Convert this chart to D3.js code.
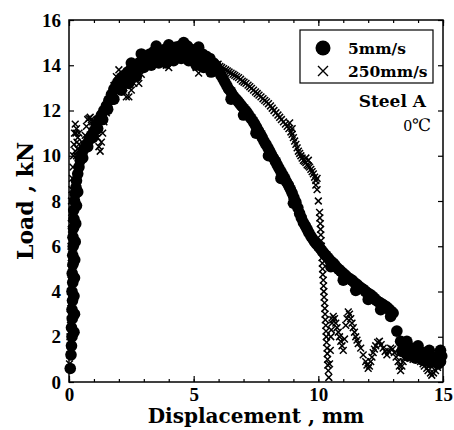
<!DOCTYPE html>
<html>
<head>
<meta charset="utf-8">
<script src="https://cdn.jsdelivr.net/npm/d3@7"></script>
<style>
  html, body { margin: 0; padding: 0; background: #fff; }
  svg { display: block; }
</style>
</head>
<body>
<div id="chart"></div>
<script>
// 5mm/s loading rate, [displacement mm, load kN]
const slowSeries = [
  [0.05,0.6],[0.08,1.2],[0.1,1.6],[0.12,2.0],[0.1,2.4],[0.13,2.8],[0.12,3.2],[0.14,3.6],
  [0.12,4.0],[0.15,4.4],[0.13,4.8],[0.16,5.2],[0.15,5.6],[0.17,6.0],[0.16,6.4],[0.18,6.8],
  [0.2,7.2],[0.19,7.6],[0.22,8.0],[0.25,8.3],[0.28,8.6],[0.3,8.9],[0.35,9.2],[0.4,9.5],
  [0.45,9.8],[0.52,10.1],[0.6,10.3],[0.7,10.5],[0.8,10.7],[0.9,10.9],[1.0,11.1],[1.1,11.35],
  [1.2,11.6],[1.3,11.8],[1.4,12.0],[1.5,12.2],[1.6,12.45],[1.7,12.7],[1.8,12.95],[1.9,13.15],
  [2.0,13.3],[2.1,13.45],[2.2,13.55],[2.35,13.7],[2.5,13.85],[2.65,14.0],[2.8,14.1],[2.95,14.25],
  [3.1,14.4],[3.25,14.5],[3.4,14.6],[3.55,14.65],[3.7,14.6],[3.85,14.7],[4.0,14.75],[4.15,14.7],
  [4.3,14.8],[4.45,14.85],[4.6,14.9],[4.75,14.85],[4.9,14.7],[5.05,14.6],[5.2,14.55],[5.35,14.5],
  [5.5,14.4],[5.65,14.3],[5.8,14.1],[5.95,13.85],[6.1,13.55],[6.25,13.25],[6.4,12.95],[6.55,12.7],
  [6.7,12.5],[6.85,12.3],[7.0,12.1],[7.15,11.9],[7.3,11.65],[7.45,11.4],[7.6,11.1],[7.75,10.8],
  [7.9,10.5],[8.05,10.2],[8.2,9.9],[8.35,9.6],[8.5,9.3],[8.65,9.0],[8.8,8.7],[8.95,8.35],
  [9.1,7.95],[9.25,7.45],[9.4,7.05],[9.55,6.75],[9.7,6.45],[9.85,6.2],[10.0,6.0],[10.15,5.8],
  [10.3,5.6],[10.45,5.4],[10.6,5.25],[10.75,5.05],[10.9,4.9],[11.05,4.75],[11.2,4.6],[11.35,4.5],
  [11.5,4.35],[11.65,4.2],[11.8,4.1],[11.95,3.95],[12.1,3.85],[12.25,3.7],[12.4,3.55],[12.55,3.45],
  [12.7,3.35],[12.85,3.2],[13.0,3.05],[13.15,2.25],[13.3,1.8],[13.45,1.7],[13.6,1.55],[13.75,1.5],
  [13.9,1.45],[14.05,1.35],[14.2,1.3],[14.35,1.25],[14.5,1.15],[14.65,1.1],[14.8,1.05],[14.95,1.15],
  [13.35,1.35],[13.6,1.15],[13.9,1.05],[14.2,0.95],[14.5,0.85],[14.8,0.8],
  // band thickness, early rise
  [0.2,2.2],[0.22,3.0],[0.2,3.8],[0.22,4.6],[0.23,5.4],[0.25,6.2],[0.27,7.0],[0.3,7.8],[0.35,8.4],
  [0.55,9.9],[0.75,10.4],[0.95,10.8],[1.15,11.2],[1.35,11.6],[1.55,12.05],[1.75,12.5],[1.95,13.0],
  [2.15,13.3],[2.45,13.6],[2.75,13.85],[3.05,14.1],[3.35,14.3],[3.65,14.35],[3.95,14.45],[4.25,14.55],
  [4.55,14.6],[4.85,14.5],[5.15,14.3],[5.45,14.15],[5.7,13.95],
  // band thickness around the peak
  [1.8,12.5],[2.1,12.9],[2.4,13.2],[2.7,13.5],[3.0,13.9],[3.3,14.0],[3.6,14.1],[3.9,14.1],
  [4.2,14.2],[4.5,14.3],[4.8,14.2],[5.1,14.0],[5.4,13.9],[5.7,13.7],[2.5,14.1],[2.9,14.5],
  [3.5,14.85],[4.0,14.9],[4.6,15.0],[5.2,14.8],
  // band thickness, descent
  [5.88,14.0],[6.03,13.7],[6.18,13.4],[6.33,13.1],[6.48,12.85],[6.62,12.6],[6.78,12.4],[6.92,12.2],
  [7.08,12.0],[7.22,11.78],[7.38,11.52],[7.52,11.25],[7.68,10.95],[7.82,10.65],[7.98,10.35],[8.12,10.05],
  [8.28,9.75],[8.42,9.45],[8.58,9.15],[8.72,8.85],[8.88,8.52],[9.02,8.15],[9.18,7.7],[9.32,7.25],
  [9.48,6.9],[9.62,6.6],[9.78,6.32],[9.92,6.1],[10.08,5.9],[10.22,5.7],[10.38,5.5],[10.52,5.32],
  [10.68,5.15],[10.82,4.98],[10.98,4.82],[11.12,4.68],[11.28,4.55],[11.42,4.42],[11.58,4.28],[11.72,4.15],
  [11.88,4.02],[12.02,3.9],[12.18,3.78],[12.32,3.62],[12.48,3.5],[12.62,3.4],[12.78,3.28],[12.92,3.12],
  [6.5,12.5],[7.0,11.8],[7.5,11.0],[8.0,10.0],[8.5,9.0],[9.0,7.9],[10.5,5.1],[11.0,4.5],
  [11.5,4.05],[12.0,3.65],[12.5,3.2],[12.9,2.9],
  // tail
  [13.4,1.5],[13.7,1.3],[14.0,1.2],[14.3,1.05],[14.6,0.95],[14.9,0.9],[13.55,1.8],[14.0,1.6],
  [14.45,1.4],[14.9,1.4]
];

// 250mm/s loading rate, [displacement mm, load kN]
const fastSeries = [
  [0.02,0.8],[0.03,1.2],[0.05,1.6],[0.04,2.0],[0.06,2.5],[0.05,3.0],[0.07,3.5],[0.06,4.0],
  [0.08,4.5],[0.07,5.0],[0.09,5.5],[0.08,6.0],[0.1,6.5],[0.09,7.0],[0.11,7.5],[0.1,8.0],
  [0.12,8.5],[0.14,9.0],[0.16,9.5],[0.18,10.0],[0.2,10.5],[0.22,11.0],[0.25,11.4],[0.3,11.2],
  [0.35,10.8],[0.4,10.5],[0.45,10.2],[0.3,10.0],[0.38,9.8],[0.5,10.0],[0.55,10.2],[0.6,10.5],
  [0.65,10.9],[0.7,11.3],[0.75,11.6],[0.85,11.7],[0.95,11.5],[1.05,11.2],[1.15,10.8],[1.2,10.4],
  [1.25,10.2],[1.3,10.6],[1.35,11.0],[1.4,11.5],[1.5,11.9],[1.6,12.3],[1.7,12.7],[1.8,13.1],
  [1.9,13.5],[2.0,13.8],[2.1,13.4],[2.2,13.0],[2.3,12.6],[2.4,12.6],[2.5,12.9],[2.6,13.2],
  [2.7,13.5],[2.8,13.2],[2.9,13.6],[3.0,14.0],[3.15,14.2],[3.3,14.4],[3.45,14.6],[3.6,14.7],
  [3.75,14.5],[3.9,14.0],[4.0,13.9],[4.1,14.3],[4.25,14.5],[4.4,14.3],[4.5,14.6],[4.65,14.7],
  [4.8,14.5],[4.95,14.2],[5.1,13.9],[5.2,13.65],[5.3,14.0],[5.45,14.3],[5.6,14.2],[5.75,14.1],
  [5.9,14.0],[6.05,13.95],[6.2,13.85],[6.35,13.75],[6.5,13.65],[6.65,13.55],[6.8,13.45],[6.95,13.3],
  [7.1,13.2],[7.25,13.05],[7.4,12.9],[7.55,12.75],[7.7,12.6],[7.85,12.45],[8.0,12.3],[8.15,12.1],
  [8.3,11.9],[8.45,11.7],[8.6,11.5],[8.75,11.3],[8.9,11.05],[9.0,10.8],[9.1,10.5],[9.2,10.2],
  [9.3,10.0],[9.4,9.8],[9.5,9.7],[9.6,9.55],[9.7,9.4],[9.8,9.2],[9.9,8.9],[9.95,8.5],
  [10.0,8.0],[10.05,7.5],[10.08,7.0],[10.1,6.5],[10.12,6.0],[10.15,5.5],[10.17,5.0],[10.2,4.5],
  [10.22,4.0],[10.25,3.5],[10.27,3.0],[10.3,2.5],[10.32,2.0],[10.35,1.5],[10.37,1.0],[10.4,0.5],
  [10.42,0.2],[10.45,0.8],[10.48,1.4],[10.5,2.0],[10.55,2.6],[10.6,2.9],[10.7,2.6],[10.8,2.2],
  [10.9,1.8],[11.0,1.4],[11.05,1.9],[11.1,2.5],[11.2,3.1],[11.3,2.8],[11.4,2.4],[11.5,2.0],
  [11.6,1.7],[11.7,1.5],[11.8,1.2],[11.9,0.9],[12.0,0.6],[12.1,0.9],[12.2,1.3],[12.3,1.6],
  [12.45,1.8],[12.6,1.5],[12.75,1.2],[12.9,1.5],[13.05,1.3],[13.2,0.9],[13.3,0.5],[13.4,0.9],
  [13.5,1.2],[13.65,1.1],[13.8,1.0],[13.95,1.1],[14.1,0.9],[14.25,0.7],[14.4,0.5],[14.55,0.3],
  [14.7,0.5],[14.85,0.8],[14.95,1.0],
  // early clump
  [0.25,10.2],[0.32,10.6],[0.28,11.0],[0.4,11.0],[0.35,10.3],[0.42,9.9],
  [0.8,11.65],[0.9,11.6],[1.0,11.35],[1.1,11.0],
  // descending chain
  [5.98,14.05],[6.12,13.9],[6.28,13.8],[6.42,13.7],[6.58,13.6],[6.72,13.5],[6.88,13.38],[7.02,13.25],
  [7.18,13.12],[7.32,12.98],[7.48,12.82],[7.62,12.68],[7.78,12.52],[7.92,12.38],[8.08,12.2],[8.22,12.0],
  [8.38,11.8],[8.52,11.6],[8.68,11.4],[8.82,11.2],[8.95,10.95],[9.05,10.65],[9.15,10.35],[9.25,10.1],
  [9.35,9.9],[9.45,9.75],[9.55,9.6],[9.65,9.5],[9.75,9.3],[9.85,9.05],[9.5,9.9],[9.6,9.8],
  [8.85,11.45],[8.95,11.2],[9.9,8.7],[9.95,9.0],
  // drop at fracture
  [10.06,7.25],[10.09,6.75],[10.11,6.25],[10.13,5.75],[10.16,5.25],[10.18,4.75],[10.21,4.25],[10.23,3.75],
  [10.26,3.25],[10.28,2.75],[10.31,2.25],[10.33,1.75],[10.36,1.25],[10.38,0.75],
  // oscillating tail
  [10.52,2.3],[10.58,2.75],[10.65,2.8],[10.75,2.4],[10.85,2.0],[10.95,1.6],[11.15,2.8],[11.25,3.0],
  [11.35,2.6],[11.45,2.2],[11.55,1.85],[11.95,0.75],[12.05,0.7],[12.15,1.1],[12.25,1.45],[12.38,1.75],
  [12.52,1.65],[12.68,1.35],[12.82,1.35],[12.98,1.45],[13.12,1.1],[13.25,0.7],[13.35,0.7],[13.45,1.05],
  [14.2,0.8],[14.35,0.6],[14.5,0.4],[14.62,0.4],[14.78,0.65],[14.9,0.9]
];

const xTicks = [0, 5, 10, 15];
const xMinorTicks = d3.range(0, 16, 1);
const yTicks = [0, 2, 4, 6, 8, 10, 12, 14, 16];
const legendLabels = ["5mm/s", "250mm/s"];

const W = 454, H = 430;
const margin = { top: 20, right: 11, bottom: 48, left: 69 };

const svg = d3.select("#chart").append("svg")
  .attr("width", W).attr("height", H);

const x = d3.scaleLinear().domain([0, 15]).range([margin.left, W - margin.right]);
const y = d3.scaleLinear().domain([0, 16]).range([H - margin.bottom, margin.top]);

const tickFont = "'Liberation Serif', 'Times New Roman', serif";
const titleFont = "'DejaVu Serif', serif";

// axes, ticks pointing into the plot
function styleAxis(g, labels) {
  g.select(".domain").remove();
  g.selectAll(".tick line").attr("stroke", "#000").attr("stroke-width", 1.2);
  if (!labels) g.selectAll(".tick text").remove();
  else g.selectAll(".tick text")
    .attr("fill", "#000")
    .style("font-family", tickFont)
    .style("font-weight", "bold")
    .style("font-size", "19px");
}

svg.append("g").attr("transform", `translate(0,${y(0)})`)
  .call(d3.axisBottom(x).tickValues(xMinorTicks).tickSize(-3).tickFormat(""))
  .call(g => styleAxis(g, false));
svg.append("g").attr("transform", `translate(0,${y(0)})`)
  .call(d3.axisBottom(x).tickValues(xTicks).tickSize(-6).tickPadding(6).tickFormat(d3.format("d")))
  .call(g => styleAxis(g, true));
svg.append("g").attr("transform", `translate(0,${y(16)})`)
  .call(d3.axisTop(x).tickValues(xMinorTicks).tickSize(-3).tickFormat(""))
  .call(g => styleAxis(g, false));
svg.append("g").attr("transform", `translate(0,${y(16)})`)
  .call(d3.axisTop(x).tickValues(xTicks).tickSize(-6).tickFormat(""))
  .call(g => styleAxis(g, false));
svg.append("g").attr("transform", `translate(${x(0)},0)`)
  .call(d3.axisLeft(y).tickValues(yTicks).tickSize(-5).tickPadding(8).tickFormat(d3.format("d")))
  .call(g => styleAxis(g, true));
svg.append("g").attr("transform", `translate(${x(15)},0)`)
  .call(d3.axisRight(y).tickValues(yTicks).tickSize(-5).tickFormat(""))
  .call(g => styleAxis(g, false));

// frame
svg.append("rect")
  .attr("x", x(0)).attr("y", y(16))
  .attr("width", x(15) - x(0)).attr("height", y(0) - y(16))
  .attr("fill", "none").attr("stroke", "#000").attr("stroke-width", 1.5);

const crossPath = s => `M${-s},${-s}L${s},${s}M${s},${-s}L${-s},${s}`;

// 250mm/s crosses
svg.append("g").selectAll("path")
  .data(fastSeries)
  .join("path")
  .attr("transform", d => `translate(${x(d[0])},${y(d[1])})`)
  .attr("d", crossPath(3.4))
  .attr("stroke", "#000").attr("stroke-width", 1.5).attr("fill", "none");

// 5mm/s filled circles
svg.append("g").selectAll("circle")
  .data(slowSeries)
  .join("circle")
  .attr("cx", d => x(d[0]))
  .attr("cy", d => y(d[1]))
  .attr("r", 5.8)
  .attr("fill", "#000");

// legend
const legend = svg.append("g").attr("transform", "translate(300,30)");
legend.append("rect")
  .attr("width", 133).attr("height", 53)
  .attr("fill", "#fff").attr("stroke", "#000").attr("stroke-width", 1.2);
legend.append("circle").attr("cx", 23).attr("cy", 18).attr("r", 7.5).attr("fill", "#000");
legend.append("path").attr("transform", "translate(23,41)")
  .attr("d", crossPath(5)).attr("stroke", "#000").attr("stroke-width", 1.4);
legend.selectAll("text.leg")
  .data(legendLabels)
  .join("text")
  .attr("class", "leg")
  .attr("x", 48)
  .attr("y", (d, i) => 24 + i * 23)
  .style("font-family", titleFont)
  .style("font-weight", "bold")
  .style("font-size", "15.5px")
  .text(d => d);

svg.append("text")
  .attr("x", 426).attr("y", 107)
  .attr("text-anchor", "end")
  .style("font-family", titleFont)
  .style("font-weight", "bold")
  .style("font-size", "17px")
  .text("Steel A");

svg.append("text")
  .attr("x", 431).attr("y", 131)
  .attr("text-anchor", "end")
  .style("font-family", "'Liberation Serif', 'DejaVu Serif', serif")
  .style("font-size", "17px")
  .text("0℃");

// axis titles
svg.append("text")
  .attr("x", (x(0) + x(15)) / 2).attr("y", 423)
  .attr("text-anchor", "middle")
  .style("font-family", titleFont)
  .style("font-weight", "bold")
  .style("font-size", "20px")
  .text("Displacement , mm");

svg.append("text")
  .attr("transform", `translate(33,${(y(0) + y(16)) / 2}) rotate(-90)`)
  .attr("text-anchor", "middle")
  .style("font-family", titleFont)
  .style("font-weight", "bold")
  .style("font-size", "22px")
  .text("Load , kN");
</script>
</body>
</html>
